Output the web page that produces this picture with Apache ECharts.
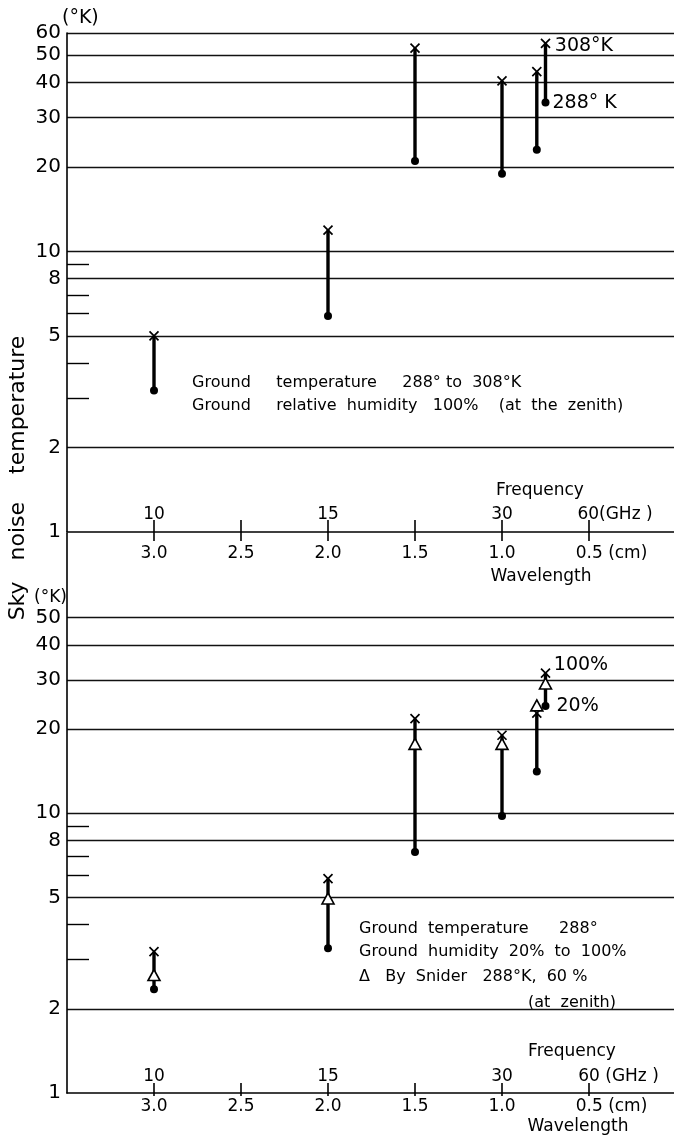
<!DOCTYPE html>
<html><head><meta charset="utf-8">
<script src="https://cdn.jsdelivr.net/npm/echarts@6/dist/echarts.min.js"></script>
<style>html,body{margin:0;padding:0;background:#fff}#c{width:674px;height:1141px}</style>
</head><body><div id="c"></div>
<script>
// ---------------- data ----------------
// Upper panel: ground temperature 288 to 308 K, relative humidity 100 %
const topWavelength = [3.0, 2.0, 1.5, 1.0, 0.8, 0.75];      // cm
const topTemp308 = [5.0, 11.9, 53.0, 40.5, 43.7, 55.1];     // sky noise temp (K), ground 308 K
const topTemp288 = [3.19, 5.89, 21.0, 18.9, 23.0, 33.9];    // sky noise temp (K), ground 288 K

// Lower panel: ground temperature 288 K, humidity 20 % to 100 %
const botWavelength = [3.0, 2.0, 1.5, 1.0, 0.8, 0.75];
const botHum100 = [3.20, 5.84, 21.8, 19.0, 22.8, 31.7];
const botHum20 = [2.35, 3.29, 7.27, 9.78, 14.1, 24.2];
const botSnider60 = [2.64, 4.96, 17.7, 17.7, 24.3, 29.1];   // By Snider 288 K, 60 %

// axes
const wavelengthTicks = [3.0, 2.5, 2.0, 1.5, 1.0, 0.5];
const freqTickWavelengths = [3.0, 2.0, 1.0, 0.5];
const freqTickLabels = ['10', '15', '30', '60'];
const topYLabels = [1, 2, 5, 8, 10, 20, 30, 40, 50, 60];
const topYGrid = [2, 5, 8, 10, 20, 30, 40, 50, 60];
const botYLabels = [1, 2, 5, 8, 10, 20, 30, 40, 50];
const botYGrid = [2, 5, 8, 10, 20, 30, 40, 50];
const minorYTicks = [3, 4, 6, 7, 9];

// ---------------- chart ----------------
const FONT = 'DejaVu Sans';
const BLACK = '#000';
const chart = echarts.init(document.getElementById('c'), null, {renderer: 'canvas'});

function near(a, b) { return Math.abs(a - b) < 1e-6; }

function wlAxis(grid, tickLen, margin) {
  return {
    gridIndex: grid, type: 'value', min: 0, max: 3.5, inverse: true, position: 'bottom',
    axisLine: {show: true, onZero: false, lineStyle: {color: BLACK, width: 1.6}},
    axisTick: {show: true, inside: false, length: tickLen, customValues: wavelengthTicks,
               lineStyle: {color: BLACK, width: 1.6}},
    splitLine: {show: false},
    axisLabel: {
      customValues: wavelengthTicks, margin: margin, color: BLACK, fontFamily: FONT, fontSize: 17,
      formatter: v => near(v, 0.5) ? '{pad|}{v|' + v.toFixed(1) + '}{u| (cm)}' : '{v|' + v.toFixed(1) + '}',
      rich: {
        v: {fontFamily: FONT, fontSize: 17, color: BLACK},
        u: {fontFamily: FONT, fontSize: 17, color: BLACK},
        pad: {width: 45}
      }
    }
  };
}
function fqAxis(grid, tickLen, margin, unit, padW) {
  return {
    gridIndex: grid, type: 'value', min: 0, max: 3.5, inverse: true, position: 'bottom',
    axisLine: {show: false, onZero: false},
    axisTick: {show: true, inside: true, length: tickLen, customValues: wavelengthTicks,
               lineStyle: {color: BLACK, width: 1.6}},
    splitLine: {show: false},
    axisLabel: {
      inside: true, customValues: freqTickWavelengths, margin: margin, color: BLACK,
      fontFamily: FONT, fontSize: 17,
      formatter: v => {
        const i = freqTickWavelengths.findIndex(w => near(w, v));
        if (i < 0) return '';
        return i === freqTickWavelengths.length - 1
          ? '{pad|}{v|' + freqTickLabels[i] + '}{u|' + unit + '}'
          : '{v|' + freqTickLabels[i] + '}';
      },
      rich: {
        v: {fontFamily: FONT, fontSize: 17, color: BLACK},
        u: {fontFamily: FONT, fontSize: 17, color: BLACK},
        pad: {width: padW}
      }
    }
  };
}
function mainY(grid, max, gridVals, labelVals) {
  return {
    gridIndex: grid, type: 'log', logBase: 10, min: 1, max: max, position: 'left',
    axisLine: {show: true, onZero: false, lineStyle: {color: BLACK, width: 1.6}},
    axisTick: {show: false, customValues: gridVals},
    splitLine: {show: true, lineStyle: {color: '#111', width: 1.4}},
    axisLabel: {customValues: labelVals, margin: 6, color: BLACK, fontFamily: FONT, fontSize: 20,
                formatter: v => String(Math.round(v))}
  };
}
function minorY(grid, max) {
  return {
    gridIndex: grid, type: 'log', logBase: 10, min: 1, max: max, position: 'left',
    axisLine: {show: true, onZero: false, lineStyle: {color: 'rgba(0,0,0,0)', width: 0}},
    axisTick: {show: true, inside: true, length: 22, customValues: minorYTicks,
               lineStyle: {color: BLACK, width: 1.4}},
    splitLine: {show: false},
    axisLabel: {show: false, customValues: minorYTicks}
  };
}

function stemRender(params, api) {
  const x = api.value(0);
  const p1 = api.coord([x, api.value(1)]);
  const p2 = api.coord([x, api.value(2)]);
  return {type: 'line', shape: {x1: p1[0], y1: p1[1], x2: p2[0], y2: p2[1]},
          style: {stroke: BLACK, lineWidth: 3.4, lineCap: 'butt'}};
}
const CROSS = 'path://M0,0L10,10M10,0L0,10';
function pointLabel(text, offset, dist) {
  return {show: true, position: 'right', distance: dist, offset: offset,
          formatter: text, color: BLACK, opacity: 1, fontFamily: FONT, fontSize: 19};
}
function crossSeries(xi, yi, xs, ys, lastLabel, lastOffset, lastDist) {
  return {
    type: 'scatter', xAxisIndex: xi, yAxisIndex: yi, symbol: CROSS, symbolSize: 9, z: 4,
    itemStyle: {color: 'rgba(0,0,0,0)', borderColor: BLACK, borderWidth: 1.7, opacity: 1},
    emphasis: {disabled: true},
    data: xs.map((w, i) => i === xs.length - 1
      ? {value: [w, ys[i]], label: pointLabel(lastLabel, lastOffset, lastDist)}
      : [w, ys[i]])
  };
}
function dotSeries(xi, yi, xs, ys, lastLabel, lastOffset, lastDist) {
  return {
    type: 'scatter', xAxisIndex: xi, yAxisIndex: yi, symbol: 'circle', symbolSize: 8, z: 3,
    itemStyle: {color: BLACK, opacity: 1},
    emphasis: {disabled: true},
    data: xs.map((w, i) => i === xs.length - 1
      ? {value: [w, ys[i]], label: pointLabel(lastLabel, lastOffset, lastDist)}
      : [w, ys[i]])
  };
}

const option = {
  animation: false,
  backgroundColor: '#fff',
  grid: [
    {left: 67, right: -2, top: 33, height: 499, outerBoundsMode: 'none', containLabel: false},
    {left: 67, right: -2, top: 533.5, height: 559.5, outerBoundsMode: 'none', containLabel: false}
  ],
  xAxis: [
    wlAxis(0, 9, 13), fqAxis(0, 12, 9, '(GHz )', 52),
    wlAxis(1, 3, 5), fqAxis(1, 10, 8, ' (GHz )', 59)
  ],
  yAxis: [
    mainY(0, 60, topYGrid, topYLabels), minorY(0, 60),
    mainY(1, 100, botYGrid, botYLabels), minorY(1, 100)
  ],
  series: [
    {type: 'custom', xAxisIndex: 0, yAxisIndex: 0, z: 2, renderItem: stemRender,
     encode: {x: 0, y: [1, 2]},
     data: topWavelength.map((w, i) => [w, topTemp288[i], topTemp308[i]])},
    dotSeries(0, 0, topWavelength, topTemp288, '288° K', [0, 0], 3),
    crossSeries(0, 0, topWavelength, topTemp308, '308°K', [0, 3], 4),
    // keeps the minor-tick axes in use
    {type: 'scatter', xAxisIndex: 0, yAxisIndex: 1, symbolSize: 0, silent: true, data: []},

    {type: 'custom', xAxisIndex: 2, yAxisIndex: 2, z: 2, renderItem: stemRender,
     encode: {x: 0, y: [1, 2]},
     data: botWavelength.map((w, i) => [w, botHum20[i], botHum100[i]])},
    dotSeries(2, 2, botWavelength, botHum20, '20%', [0, 0], 7),
    crossSeries(2, 2, botWavelength, botHum100, '100%', [0, -8], 3),
    {type: 'scatter', xAxisIndex: 2, yAxisIndex: 2, symbol: 'triangle', symbolSize: [12, 11], z: 5,
     itemStyle: {color: '#fff', borderColor: BLACK, borderWidth: 1.6, opacity: 1},
     emphasis: {disabled: true},
     data: botWavelength.map((w, i) => [w, botSnider60[i]])},
    {type: 'scatter', xAxisIndex: 2, yAxisIndex: 3, symbolSize: 0, silent: true, data: []}
  ],
  graphic: [
    {type: 'text', x: 18, y: 478, rotation: Math.PI / 2,
     style: {text: 'Sky   noise    temperature', font: '22px "DejaVu Sans"', fill: BLACK,
             align: 'center', verticalAlign: 'middle'}},
    {type: 'text', x: 62, y: 18, style: {text: '(°K)', font: '19px "DejaVu Sans"', fill: BLACK, align: 'left', verticalAlign: 'middle'}},
    {type: 'text', x: 34, y: 598, style: {text: '(°K)', font: '17px "DejaVu Sans"', fill: BLACK, align: 'left', verticalAlign: 'middle'}},
    {type: 'text', x: 540, y: 491, style: {text: 'Frequency', font: '17px "DejaVu Sans"', fill: BLACK, align: 'center', verticalAlign: 'middle'}},
    {type: 'text', x: 541, y: 577, style: {text: 'Wavelength', font: '17px "DejaVu Sans"', fill: BLACK, align: 'center', verticalAlign: 'middle'}},
    {type: 'text', x: 572, y: 1052, style: {text: 'Frequency', font: '17px "DejaVu Sans"', fill: BLACK, align: 'center', verticalAlign: 'middle'}},
    {type: 'text', x: 578, y: 1127, style: {text: 'Wavelength', font: '17px "DejaVu Sans"', fill: BLACK, align: 'center', verticalAlign: 'middle'}},
    {type: 'text', x: 192, y: 383, style: {text: 'Ground     temperature     288° to  308°K', font: '16px "DejaVu Sans"', fill: BLACK, align: 'left', verticalAlign: 'middle'}},
    {type: 'text', x: 192, y: 406, style: {text: 'Ground     relative  humidity   100%    (at  the  zenith)', font: '16px "DejaVu Sans"', fill: BLACK, align: 'left', verticalAlign: 'middle'}},
    {type: 'text', x: 359, y: 929, style: {text: 'Ground  temperature      288°', font: '16px "DejaVu Sans"', fill: BLACK, align: 'left', verticalAlign: 'middle'}},
    {type: 'text', x: 359, y: 952, style: {text: 'Ground  humidity  20%  to  100%', font: '16px "DejaVu Sans"', fill: BLACK, align: 'left', verticalAlign: 'middle'}},
    {type: 'text', x: 359, y: 977, style: {text: 'Δ   By  Snider   288°K,  60 %', font: '16px "DejaVu Sans"', fill: BLACK, align: 'left', verticalAlign: 'middle'}},
    {type: 'text', x: 528, y: 1003, style: {text: '(at  zenith)', font: '16px "DejaVu Sans"', fill: BLACK, align: 'left', verticalAlign: 'middle'}}
  ]
};
chart.setOption(option);
</script>
</body></html>
